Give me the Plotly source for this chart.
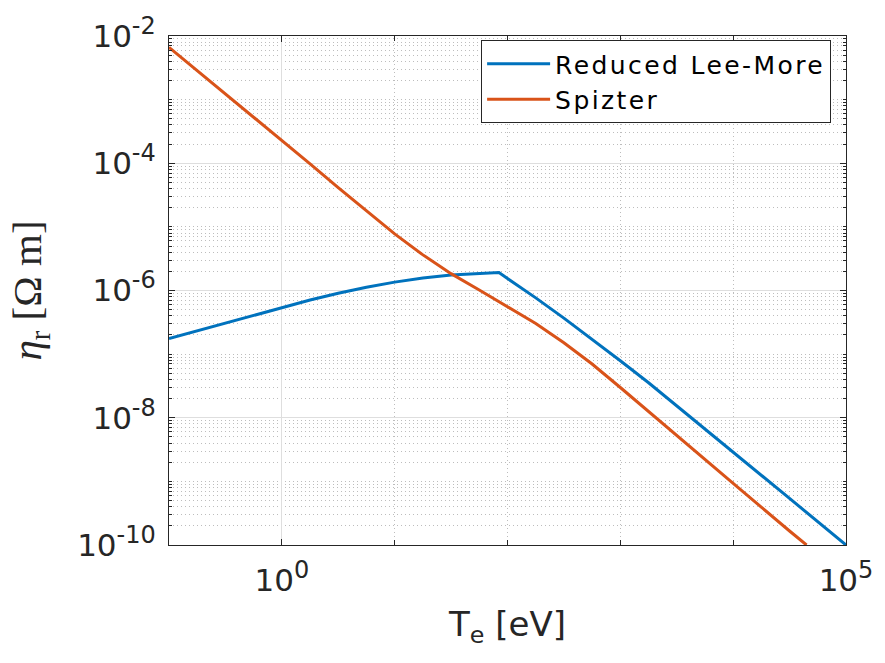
import plotly.graph_objects as go

# ---- data ----
T_lee_more = [0.1, 0.316, 1, 1.78, 3.16, 5.62, 10, 17.8, 31.6, 56.2, 84,
              100, 178, 316, 562, 1000, 1780, 3160, 5620, 1e4, 3.16e4, 1e5]
eta_lee_more = [1.76e-7, 3.09e-7, 5.40e-7, 7.08e-7, 9.06e-7, 1.127e-6, 1.355e-6,
                1.574e-6, 1.758e-6, 1.871e-6, 1.914e-6, 1.545e-6, 7.66e-7, 3.68e-7,
                1.72e-7, 7.87e-8, 3.55e-8, 1.53e-8, 6.62e-9, 2.89e-9, 5.40e-10, 1.0e-10]

T_spitzer = [0.1, 0.316, 1, 1.78, 3.16, 5.62, 10, 17.8, 31.6, 56.2, 100,
             178, 316, 562, 1000, 1780, 3160, 5620, 1e4, 3.16e4, 4.47e4]
eta_spitzer = [6.64e-3, 1.24e-3, 2.32e-4, 9.77e-5, 4.14e-5, 1.79e-5, 7.76e-6,
               3.63e-6, 1.84e-6, 1.02e-6, 5.62e-7, 3.02e-7, 1.51e-7, 7.00e-8,
               2.99e-8, 1.245e-8, 5.25e-9, 2.21e-9, 9.33e-10, 1.66e-10, 1.0e-10]

series_names = ["Reduced Lee-More", "Spizter"]
series_colors = ["#0072BD", "#D95319"]

SUP = "<sup><span style='font-size:24px'>{}</span></sup>"
x_tick_vals = [1, 1e5]
x_tick_exp = ["0", "5"]
y_tick_vals = [1e-10, 1e-8, 1e-6, 1e-4, 1e-2]
y_tick_exp = ["-10", "-8", "-6", "-4", "-2"]
x_tick_text = ["10" + SUP.format(e) for e in x_tick_exp]
y_tick_text = ["10" + SUP.format(e) for e in y_tick_exp]

x_decades = [10, 100, 1000, 1e4]
x_sub = [m * 10.0 ** e for e in range(-1, 5) for m in range(2, 10)]
y_minor = [m * 10.0 ** e for e in range(-10, -2) for m in range(2, 10)] + \
          [1e-9, 1e-7, 1e-5, 1e-3]

FONT = "DejaVu Sans"
INK = "#262626"
MAJOR_GRID = "#dedede"
MINOR_GRID = "#bdbdbd"
DOT = "1px,3px"
LEGEND_TEXT = "<span style='letter-spacing:2.4px'>{}</span>"

fig = go.Figure()
for T, eta, name, color in [(T_lee_more, eta_lee_more, series_names[0], series_colors[0]),
                            (T_spitzer, eta_spitzer, series_names[1], series_colors[1])]:
    fig.add_trace(go.Scatter(x=T, y=eta, mode="lines",
                             name=LEGEND_TEXT.format(name),
                             line=dict(color=color, width=3)))

fig.update_layout(
    width=885, height=663,
    margin=dict(l=169, r=37, t=22, b=118),
    paper_bgcolor="white", plot_bgcolor="white",
    font=dict(family=FONT, color=INK, size=30),
    showlegend=True,
    legend=dict(x=0.978, y=0.992, xanchor="right", yanchor="top",
                bgcolor="white", bordercolor=INK, borderwidth=1,
                font=dict(size=25, color="black", family=FONT),
                itemwidth=63, tracegroupgap=0),
    xaxis=dict(type="log", range=[-1, 5],
               tickvals=x_tick_vals, ticktext=x_tick_text,
               ticks="inside", ticklen=6, tickcolor=INK,
               showgrid=True, gridcolor=MAJOR_GRID, gridwidth=1,
               showline=True, linecolor=INK, linewidth=1, mirror="ticks",
               zeroline=False,
               tickfont=dict(size=31, color=INK),
               ticklabelstandoff=8, ticklabeloverflow="allow",
               minor=dict(tickvals=x_decades, ticks="inside", ticklen=5,
                          tickcolor=INK, showgrid=True, gridcolor=MINOR_GRID,
                          griddash=DOT),
               title=dict(text="T<sub>e</sub> [eV]",
                          font=dict(size=34, color=INK), standoff=14)),
    xaxis2=dict(type="log", range=[-1, 5], overlaying="x", anchor="y",
                tickvals=x_sub, showticklabels=False, ticks="",
                showgrid=True, gridcolor=MINOR_GRID, griddash=DOT,
                showline=False, zeroline=False),
    yaxis=dict(type="log", range=[-10, -2],
               tickvals=y_tick_vals, ticktext=y_tick_text,
               ticks="inside", ticklen=6, tickcolor=INK,
               showgrid=True, gridcolor=MAJOR_GRID, gridwidth=1,
               showline=True, linecolor=INK, linewidth=1, mirror="ticks",
               zeroline=False,
               tickfont=dict(size=31, color=INK),
               ticklabelstandoff=6, ticklabeloverflow="allow",
               minor=dict(tickvals=y_minor, ticks="inside", ticklen=3,
                          tickcolor=INK, showgrid=True, gridcolor=MINOR_GRID,
                          griddash=DOT),
               title=dict(text="<i>η</i><sub>r</sub> [Ω m]",
                          font=dict(size=41, color=INK, family="Liberation Serif"),
                          standoff=22)),
)

fig.write_html("out.html")
